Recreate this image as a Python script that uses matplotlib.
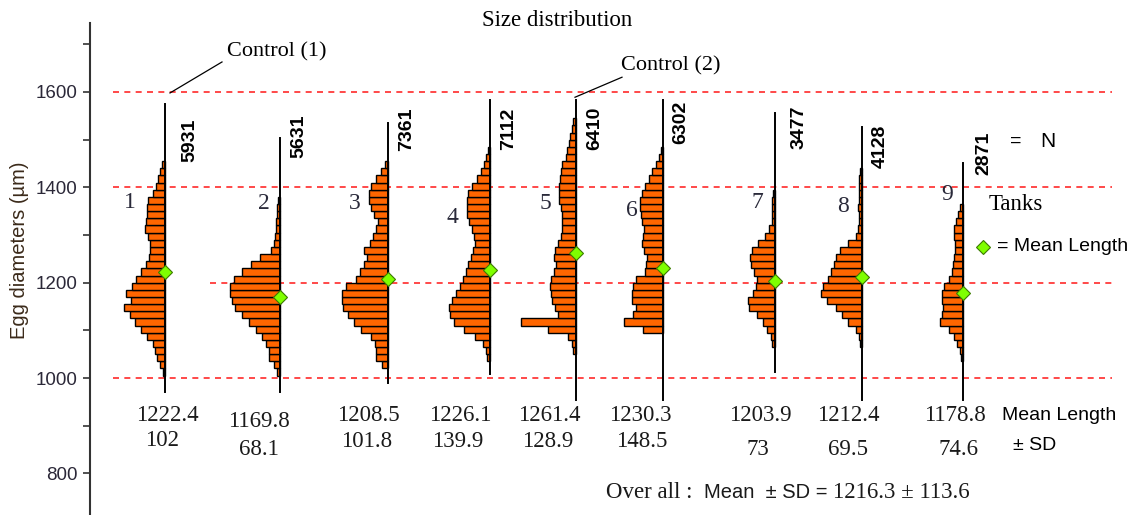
import numpy as np
import matplotlib.pyplot as plt
from matplotlib import font_manager
from matplotlib.ticker import MultipleLocator

# egg diameter distributions per tank (15 um classes, width ~ relative frequency)
tanks = ['1', '2', '3', '4', '5', '6', '7', '8', '9']
n_eggs = [5931, 5631, 7361, 7112, 6410, 6302, 3477, 4128, 2871]
mean_len = [1222.4, 1169.8, 1208.5, 1226.1, 1261.4, 1230.3, 1203.9, 1212.4, 1178.8]
sd_len = [102, 68.1, 101.8, 139.9, 128.9, 148.5, 73, 69.5, 74.6]
overall_mean = 1216.3
overall_sd = 113.6
range_lo = [971, 971, 990, 1008, 954, 954, 1013, 954, 954]
range_hi = [1575, 1503, 1535, 1583, 1583, 1583, 1556, 1527, 1451]

bin_w = 15
bin_start = [1005, 1005, 1020, 1035, 1050, 1095, 1065, 1065, 1035]
freq1 = [2, 5, 8, 10, 12, 18, 24, 30, 35, 41, 34, 39, 33, 29, 24, 19, 16, 15, 15, 17,
         20, 19, 18, 18, 17, 12, 9, 7, 5, 3]
freq2 = [3, 6, 11, 11, 14, 18, 24, 31, 38, 45, 48, 50, 50, 46, 38, 29, 20, 9, 6, 5,
         4, 4, 3, 3, 2]
freq3 = [6, 12, 12, 13, 17, 27, 34, 40, 45, 46, 46, 42, 32, 28, 24, 21, 24, 18, 15, 12,
         10, 14, 17, 19, 19, 17, 12, 7, 3]
freq4 = [3, 4, 7, 15, 26, 36, 40, 41, 38, 34, 30, 27, 24, 22, 19, 17, 15, 16, 18, 21,
         23, 23, 23, 22, 18, 13, 9, 6, 4, 2]
freq5 = [3, 4, 8, 28, 55, 18, 21, 24, 25, 26, 25, 22, 20, 22, 21, 18, 15, 14, 14, 14,
         15, 17, 17, 17, 16, 15, 14, 10, 9, 7, 6, 4, 3]
freq6 = [20, 39, 30, 27, 31, 31, 30, 27, 18, 17, 16, 19, 21, 20, 19, 21, 22, 23, 23, 21,
         18, 14, 11, 7, 4, 2]
freq7 = [3, 4, 8, 12, 18, 26, 27, 22, 19, 18, 21, 24, 25, 23, 17, 10, 6, 3, 3, 3, 3, 2]
freq8 = [2, 3, 6, 14, 20, 26, 35, 41, 39, 34, 31, 28, 26, 22, 14, 6, 4, 3, 3, 4, 3, 3,
         3, 3, 2]
freq9 = [2, 3, 6, 9, 14, 23, 21, 20, 21, 21, 19, 14, 11, 10, 9, 8, 8, 9, 9, 7, 5, 3]
freqs = [freq1, freq2, freq3, freq4, freq5, freq6, freq7, freq8, freq9]

# layout (x in figure pixels, y in data units)
tank_x = [165, 280, 388, 490, 576, 663, 775, 862, 963]
label_x = [130, 264, 355, 452, 545, 632, 757, 843, 947]
label_y = [1369, 1367, 1367, 1336, 1367, 1352, 1369, 1359, 1384]
n_label_x = [190, 299, 407, 509, 595, 681, 799, 880, 984]
n_label_y = [1499, 1508, 1522, 1522, 1524, 1537, 1527, 1487, 1472]
mean_x = [167, 259, 368, 460, 549, 640, 760, 848, 955]
mean_y = [922, 908, 922, 922, 922, 922, 922, 922, 922]
sd_x = [162, 259, 367, 458, 548, 642, 758, 848, 958]
sd_y = [868, 851, 866, 866, 866, 866, 851, 851, 851]
grid_y = [1600, 1400, 1200, 1000]
grid_x0 = [113, 113, 210, 113]

serif = 'Liberation Serif'
sans = 'Liberation Sans'
names = {f.name for f in font_manager.fontManager.ttflist}
narrow = 'Liberation Sans Narrow' if 'Liberation Sans Narrow' in names else sans

orange = '#ff6600'
green = '#7fff00'
ink = '#1a1a1a'

fig = plt.figure(figsize=(11.34, 5.15), dpi=100)
ax = fig.add_axes([0, 0, 1, 1])
ax.set_xlim(0, 1134)
ax.set_ylim(712.6, 1793)

for y, x0 in zip(grid_y, grid_x0):
    ax.plot([x0, 1112], [y, y], color='#ff2a2a', lw=1.2, ls=(0, (3.6, 3.2)), zorder=1)

for i in range(len(tanks)):
    x = tank_x[i]
    f = np.array(freqs[i])
    centers = bin_start[i] + bin_w * (np.arange(len(f)) + 0.5)
    ax.plot([x, x], [range_lo[i], range_hi[i]], color='black', lw=1.4, zorder=3)
    ax.barh(centers, -f, left=x, height=bin_w, color=orange, edgecolor='black',
            linewidth=1.0, zorder=2)
    ax.plot(x, mean_len[i], marker='D', ms=7, color=green, mec='#3c7a00', mew=0.8,
            zorder=4)
    ax.text(label_x[i], label_y[i], tanks[i], family=serif, fontsize=17,
            color='#2a2a3a', ha='center', va='center')
    ax.text(n_label_x[i], n_label_y[i], str(n_eggs[i]), family=narrow,
            fontweight='bold', fontsize=14, rotation=90, ha='center', va='center')
    ax.text(mean_x[i], mean_y[i], f'{mean_len[i]:.1f}', family=serif,
            fontsize=16.5, ha='center', va='center', color=ink)
    ax.text(sd_x[i], sd_y[i], f'{sd_len[i]:g}', family=serif,
            fontsize=16.5, ha='center', va='center', color=ink)

# y axis
ax.spines[['top', 'right', 'bottom']].set_visible(False)
ax.spines['left'].set_position(('data', 90))
ax.spines['left'].set_bounds(712.6, 1745)
ax.spines['left'].set_linewidth(1.5)
ax.spines['left'].set_color('#333333')
ax.xaxis.set_visible(False)
ax.yaxis.set_major_locator(MultipleLocator(200))
ax.yaxis.set_minor_locator(MultipleLocator(100))
ax.tick_params(axis='y', which='both', direction='out', length=5, width=1.2,
               color='#333333', pad=4)
ax.tick_params(axis='y', which='major', labelsize=13.5, labelcolor='#2b2838')
ax.set_yticks([800, 1000, 1200, 1400, 1600])
for lab in ax.get_yticklabels():
    lab.set_family(sans)
ax.text(20, 1268, 'Egg diameters (\u00b5m)', rotation=90, family=sans, fontsize=14.5,
        color='#3b2a1a', ha='center', va='center')

ax.text(557, 1751, 'Size distribution', family=serif, fontsize=16.5, ha='center',
        va='center')
ax.text(277, 1684, 'Control (1)', family=serif, fontsize=16, ha='center', va='center')
ax.plot([170, 222], [1598, 1663], color='black', lw=0.9)
ax.text(671, 1654, 'Control (2)', family=serif, fontsize=16, ha='center', va='center')
ax.plot([575, 622], [1589, 1631], color='black', lw=0.9)

# key
ax.text(1016, 1497, '=', family=sans, fontsize=14, ha='center', va='center')
ax.text(1048, 1497, 'N', family=sans, fontsize=15, ha='center', va='center')
ax.text(1016, 1363, 'Tanks', family=serif, fontsize=16.5, ha='center', va='center')
ax.plot(983, 1275, marker='D', ms=7, color=green, mec='#3c7a00', mew=0.8)
ax.text(997, 1275, '= Mean Length', family=sans, fontsize=14, ha='left', va='center')
ax.text(1002, 922, 'Mean Length', family=sans, fontsize=14, ha='left', va='center')
ax.text(1035, 859, '\u00b1 SD', family=sans, fontsize=14, ha='center', va='center')

# overall summary line, mixed fonts laid out left to right
parts = [('Over all :  ', serif, 16.5), ('Mean  \u00b1 SD = ', sans, 14.5),
         (f'{overall_mean} \u00b1 {overall_sd}', serif, 16.5)]
fig.canvas.draw()
renderer = fig.canvas.get_renderer()
x_cur = 606
for txt, fam, size in parts:
    t = ax.text(x_cur, 748, txt, family=fam, fontsize=size, ha='left',
                va='baseline', color=ink)
    bb = t.get_window_extent(renderer)
    x_cur = ax.transData.inverted().transform((bb.x1, 0))[0]

fig.savefig('out.png', dpi=100)
